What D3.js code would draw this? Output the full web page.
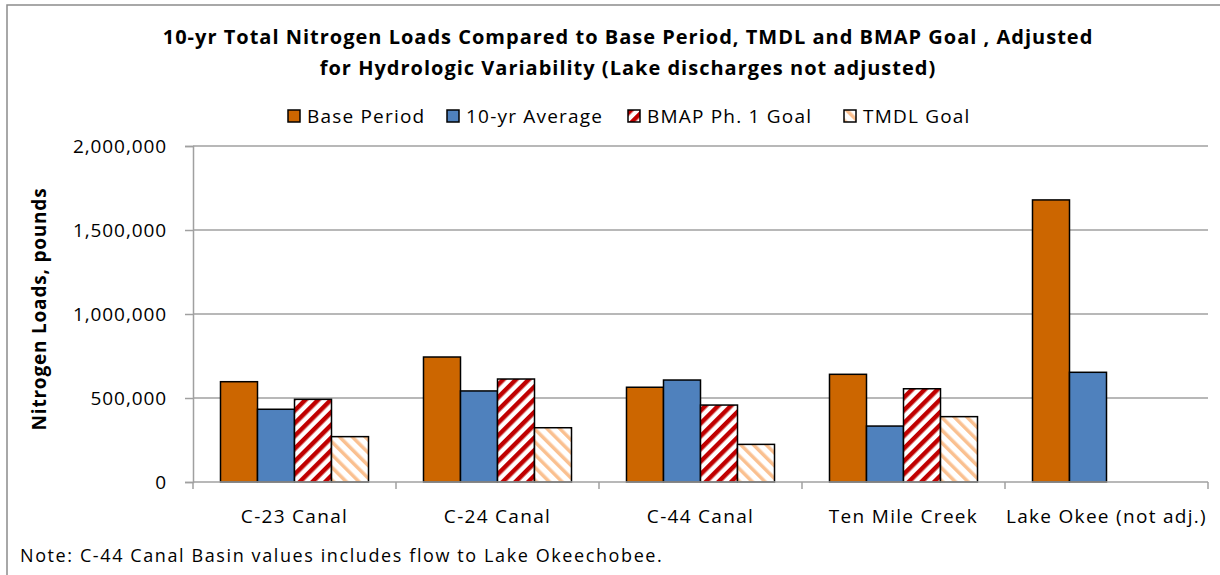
<!DOCTYPE html>
<html>
<head>
<meta charset="utf-8">
<script src="https://cdn.jsdelivr.net/npm/d3@7"></script>
<style>
  body { margin: 0; background: #fff; }
  svg text { font-family: "Open Sans", Lato, sans-serif; fill: #000; }
</style>
</head>
<body>
<svg id="chart" width="1220" height="575"></svg>
<script>
// chart data
var categories = ["C-23 Canal", "C-24 Canal", "C-44 Canal", "Ten Mile Creek", "Lake Okee (not adj.)"];
var seriesNames = ["Base Period", "10-yr Average", "BMAP Ph. 1 Goal", "TMDL Goal"];
var basePeriod = [597000, 744000, 564000, 641000, 1679000];
var tenYrAverage = [433000, 542000, 607000, 333000, 653000];
var bmapGoal = [492000, 613000, 458000, 555000, null];
var tmdlGoal = [270000, 323000, 224000, 389000, null];
var yTicks = [0, 500000, 1000000, 1500000, 2000000];

var seriesValues = [basePeriod, tenYrAverage, bmapGoal, tmdlGoal];

var svg = d3.select("#chart");

// patterns for the goal series
var defs = svg.append("defs");
var redPat = defs.append("pattern")
  .attr("id", "redStripe")
  .attr("patternUnits", "userSpaceOnUse")
  .attr("width", 9).attr("height", 9)
  .attr("patternTransform", "rotate(45)");
redPat.append("rect").attr("width", 9).attr("height", 9).attr("fill", "#fff");
redPat.append("rect").attr("width", 4.5).attr("height", 9).attr("fill", "#C00000");

var peachPat = defs.append("pattern")
  .attr("id", "peachStripe")
  .attr("patternUnits", "userSpaceOnUse")
  .attr("width", 9).attr("height", 9)
  .attr("patternTransform", "rotate(-45)");
peachPat.append("rect").attr("width", 9).attr("height", 9).attr("fill", "#fff");
peachPat.append("rect").attr("width", 3.5).attr("height", 9).attr("fill", "#FAC090");

var fills = ["#CC6600", "#4F81BD", "url(#redStripe)", "url(#peachStripe)"];

// outer border
svg.append("rect")
  .attr("x", 7).attr("y", 5)
  .attr("width", 1240).attr("height", 600)
  .attr("fill", "none")
  .attr("stroke", "#8c8c8c")
  .attr("stroke-width", 1.5);

// plot area (note: "top" is taken by window.top)
var plotLeft = 193, plotRight = 1208, plotTop = 146, plotBottom = 482;

var x0 = d3.scaleBand().domain(categories).range([plotLeft, plotRight]);
var x1 = d3.scaleBand().domain(seriesNames).range([0, x0.bandwidth()]).paddingOuter(0.743);
var y = d3.scaleLinear().domain([0, 2000000]).range([plotBottom, plotTop]);

// gridlines
svg.append("g").selectAll("line")
  .data(yTicks.slice(1))
  .enter().append("line")
  .attr("x1", plotLeft).attr("x2", plotRight)
  .attr("y1", function (d) { return y(d); })
  .attr("y2", function (d) { return y(d); })
  .attr("stroke", "#a0a0a0")
  .attr("stroke-width", 1.5);

// y axis
var yAxis = svg.append("g")
  .attr("transform", "translate(" + plotLeft + ",0)")
  .call(d3.axisLeft(y).tickValues(yTicks).tickSize(8).tickPadding(18).tickFormat(d3.format(",")));
yAxis.selectAll("path, line").attr("stroke", "#a0a0a0").attr("stroke-width", 1.5);
yAxis.selectAll("text").style("font-size", "19px").style("letter-spacing", "0.9px").attr("dy", "0.34em");

// bars
var groups = svg.append("g").selectAll("g")
  .data(categories)
  .enter().append("g")
  .attr("transform", function (d) { return "translate(" + x0(d) + ",0)"; });

groups.selectAll("rect")
  .data(function (d, i) {
    return seriesNames.map(function (s, j) { return { s: s, j: j, v: seriesValues[j][i] }; })
      .filter(function (o) { return o.v !== null; });
  })
  .enter().append("rect")
  .attr("x", function (o) { return x1(o.s); })
  .attr("width", x1.bandwidth())
  .attr("y", function (o) { return y(o.v); })
  .attr("height", function (o) { return plotBottom - y(o.v); })
  .attr("fill", function (o) { return fills[o.j]; })
  .attr("stroke", "#000")
  .attr("stroke-width", 1.5);

// x axis
var xAxisG = svg.append("g").attr("transform", "translate(0," + plotBottom + ")");
xAxisG.append("line")
  .attr("x1", plotLeft).attr("x2", plotRight)
  .attr("stroke", "#a0a0a0").attr("stroke-width", 1.5);
xAxisG.selectAll("line.tick")
  .data(categories.concat(["end"]))
  .enter().append("line")
  .attr("class", "tick")
  .attr("x1", function (d, i) { return plotLeft + i * x0.step(); })
  .attr("x2", function (d, i) { return plotLeft + i * x0.step(); })
  .attr("y1", 0).attr("y2", 7)
  .attr("stroke", "#a0a0a0").attr("stroke-width", 1.5);
xAxisG.selectAll("text")
  .data(categories)
  .enter().append("text")
  .attr("x", function (d) { return x0(d) + x0.bandwidth() / 2; })
  .attr("y", 41)
  .attr("text-anchor", "middle")
  .style("font-size", "19px")
  .style("letter-spacing", "1.3px")
  .text(function (d) { return d; });

// y axis title
svg.append("text")
  .attr("transform", "translate(46,309) rotate(-90)")
  .attr("text-anchor", "middle")
  .style("font-size", "19px")
  .style("font-weight", "bold")
  .style("letter-spacing", "0.8px")
  .text("Nitrogen Loads, pounds");

// chart title
var title = svg.append("text")
  .attr("text-anchor", "middle")
  .style("font-size", "20px")
  .style("font-weight", "bold")
  .style("letter-spacing", "1px");
title.append("tspan").attr("x", 628).attr("y", 44)
  .text("10-yr Total Nitrogen Loads Compared to Base Period, TMDL and BMAP Goal , Adjusted");
title.append("tspan").attr("x", 628).attr("y", 75)
  .text("for Hydrologic Variability  (Lake discharges not adjusted)");

// legend
var legendX = [288, 447, 628, 844];
var legend = svg.append("g").selectAll("g")
  .data(seriesNames)
  .enter().append("g")
  .attr("transform", function (d, i) { return "translate(" + legendX[i] + ",110)"; });
legend.append("rect")
  .attr("width", 12).attr("height", 12)
  .attr("fill", function (d, i) { return fills[i]; })
  .attr("stroke", "#000").attr("stroke-width", 1.5);
legend.append("text")
  .attr("x", 19).attr("y", 13)
  .style("font-size", "19px")
  .style("letter-spacing", "1.2px")
  .text(function (d) { return d; });

// note
svg.append("text")
  .attr("x", 20).attr("y", 562)
  .style("font-size", "18px")
  .style("letter-spacing", "1.6px")
  .text("Note:  C-44 Canal Basin values includes flow to Lake Okeechobee.");
</script>
</body>
</html>
